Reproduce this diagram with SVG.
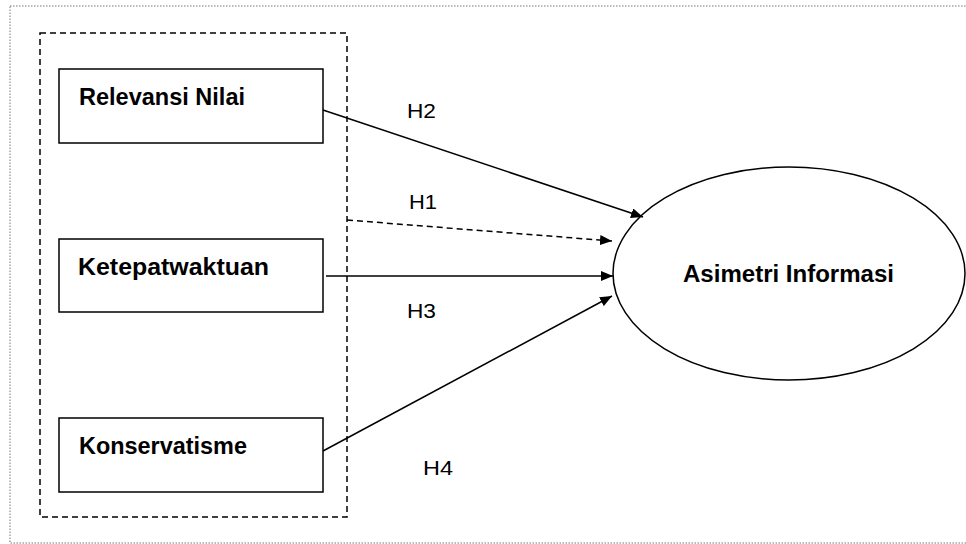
<svg xmlns="http://www.w3.org/2000/svg" width="966" height="544" viewBox="0 0 966 544">
<style>
.node{fill:#fff;stroke:#000;stroke-width:1.5}
.lbl{font-family:"Liberation Sans",Arial,sans-serif;font-weight:bold;font-size:23px;fill:#000}
.h{font-family:"Liberation Sans",Arial,sans-serif;font-size:21px;fill:#000}
.edge{stroke:#000;stroke-width:1.5;fill:none}
</style>
<defs>
<marker id="ah" viewBox="0 0 12 10" refX="12" refY="5" markerWidth="12" markerHeight="10" markerUnits="userSpaceOnUse" orient="auto">
<path d="M0,0 L12,5 L0,10 Z" fill="#000"/>
</marker>
</defs>
<rect width="966" height="544" fill="#fff"/>
<rect id="frame" x="10" y="6" width="970" height="537" fill="none" stroke="#777" stroke-width="1" stroke-dasharray="1.5 1.5"/>
<rect id="group" x="40" y="33" width="307" height="484" fill="none" stroke="#000" stroke-width="1.5" stroke-dasharray="6 4"/>
<g id="relevansi">
<rect class="node" x="59" y="69" width="264" height="74"/>
<text class="lbl" x="79" y="105" textLength="166" lengthAdjust="spacingAndGlyphs">Relevansi Nilai</text>
</g>
<g id="ketepatwaktuan">
<rect class="node" x="59" y="239" width="264" height="73"/>
<text class="lbl" x="78" y="275" textLength="191" lengthAdjust="spacingAndGlyphs">Ketepatwaktuan</text>
</g>
<g id="konservatisme">
<rect class="node" x="59" y="418" width="264" height="74"/>
<text class="lbl" x="79" y="454" textLength="168" lengthAdjust="spacingAndGlyphs">Konservatisme</text>
</g>
<g id="asimetri">
<ellipse class="node" cx="789" cy="273.5" rx="176" ry="106.5"/>
<text class="lbl" x="683" y="282" textLength="211" lengthAdjust="spacingAndGlyphs">Asimetri Informasi</text>
</g>
<g id="connectors">
<line class="edge" x1="323" y1="110" x2="643" y2="217" marker-end="url(#ah)"/>
<line class="edge" x1="347" y1="220" x2="612" y2="241" stroke-dasharray="6 4" marker-end="url(#ah)"/>
<line class="edge" x1="326" y1="276" x2="613" y2="276" marker-end="url(#ah)"/>
<line class="edge" x1="323" y1="451" x2="612" y2="296" marker-end="url(#ah)"/>
<text class="h" x="407" y="118" textLength="29" lengthAdjust="spacingAndGlyphs">H2</text>
<text class="h" x="409" y="209" textLength="28" lengthAdjust="spacingAndGlyphs">H1</text>
<text class="h" x="407" y="318" textLength="29" lengthAdjust="spacingAndGlyphs">H3</text>
<text class="h" x="423" y="475" textLength="30" lengthAdjust="spacingAndGlyphs">H4</text>
</g>
</svg>
